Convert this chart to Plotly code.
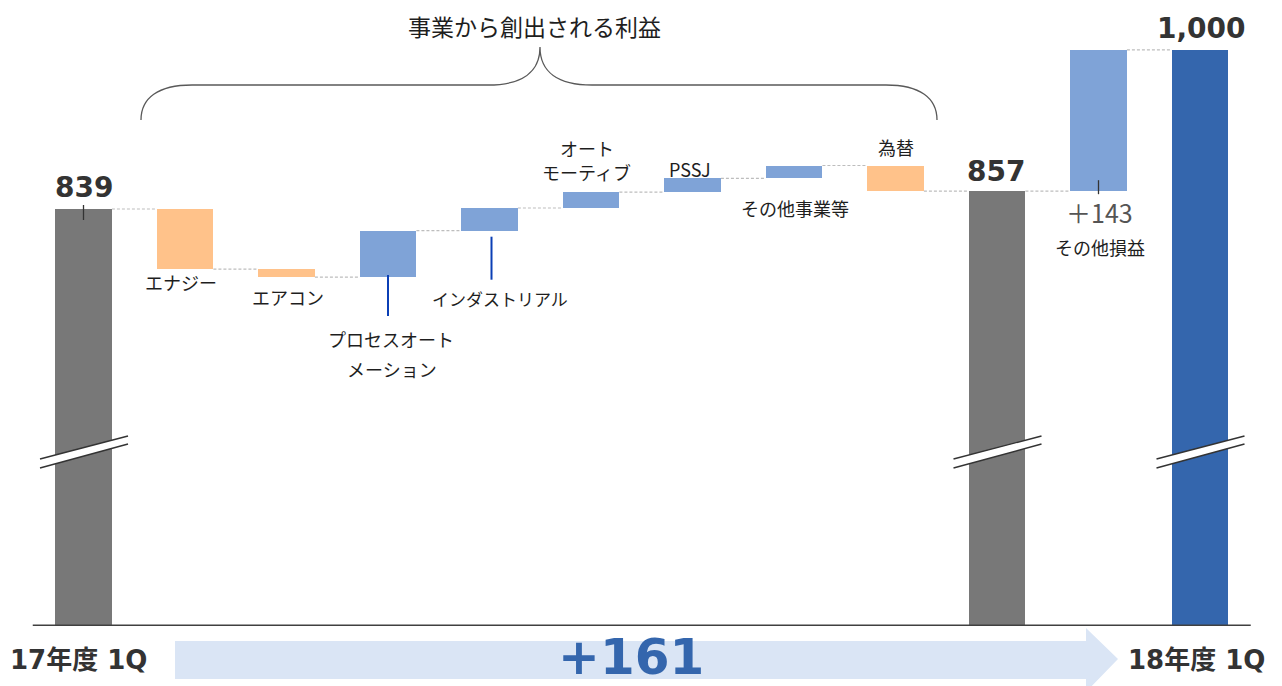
import plotly.graph_objects as go

# ---- data -------------------------------------------------------------
start_label = "17年度 1Q"
end_label = "18年度 1Q"
start_value = 839
segments = ["エナジー", "エアコン", "プロセスオートメーション", "インダストリアル",
            "オートモーティブ", "PSSJ", "その他事業等", "為替"]
segment_deltas = [-61, -8, 47, 23, 16, 14, 13, -26]
other_label = "その他損益"
other_delta = 143
bracket_title = "事業から創出される利益"

# ---- derived running totals ------------------------------------------
mid_total = start_value + sum(segment_deltas)
final_total = mid_total + other_delta
total_change = final_total - start_value

# ---- canvas geometry ---------------------------------------------------
W, H = 1282, 686
PX_PER_UNIT = 0.9876        # vertical scale (px per 1 unit)
X0_PX, X_STEP_PX = 83.5, 101.5
Y_TOP = 1050.6              # value at the top edge of the canvas
AXIS_FLOOR = Y_TOP - 625.3 / PX_PER_UNIT   # broken axis baseline
Y_BOTTOM = Y_TOP - H / PX_PER_UNIT
X_MIN = -X0_PX / X_STEP_PX
X_MAX = (W - X0_PX) / X_STEP_PX
BAR_W = 0.56

GRAY = "#787878"
ORANGE = "#FFC28A"
LIGHT_BLUE = "#7FA3D7"
DARK_BLUE = "#3466AD"
ARROW_FILL = "#DAE5F5"
TEXT = "#1e1e1e"
NUM = "#333333"
JP = "Noto Sans CJK JP"
BOLD_NUM = "DejaVu Sans, Noto Sans CJK JP"


def px(dpx):
    """pixel distance -> value units"""
    return dpx / PX_PER_UNIT


def paper_x(p):
    return p / W


def paper_y(p):
    return 1 - p / H


# ---- build bars --------------------------------------------------------
xs, bases, heights, colors = [], [], [], []
xs.append(0); bases.append(AXIS_FLOOR); heights.append(start_value - AXIS_FLOOR); colors.append(GRAY)
level = start_value
seg_bounds = []
for i, d in enumerate(segment_deltas, start=1):
    lo, hi = min(level, level + d), max(level, level + d)
    xs.append(i); bases.append(lo); heights.append(hi - lo)
    colors.append(ORANGE if d < 0 else LIGHT_BLUE)
    seg_bounds.append((lo, hi))
    level += d
i_mid = len(segment_deltas) + 1
xs.append(i_mid); bases.append(AXIS_FLOOR); heights.append(mid_total - AXIS_FLOOR); colors.append(GRAY)
i_other = i_mid + 1
xs.append(i_other); bases.append(mid_total); heights.append(other_delta); colors.append(LIGHT_BLUE)
i_final = i_other + 1
xs.append(i_final); bases.append(AXIS_FLOOR); heights.append(final_total - AXIS_FLOOR); colors.append(DARK_BLUE)

fig = go.Figure()
fig.add_trace(go.Bar(x=xs, y=heights, base=bases, width=BAR_W,
                     marker=dict(color=colors, line=dict(width=0)),
                     hoverinfo="skip", showlegend=False))

# ---- dashed connectors ---------------------------------------------------
levels = [start_value]
lv = start_value
for d in segment_deltas:
    lv += d
    levels.append(lv)
levels += [mid_total, final_total]
cx, cy = [], []
for i, lv in enumerate(levels):
    cx += [i + BAR_W / 2, i + 1 - BAR_W / 2, None]
    cy += [lv, lv, None]
fig.add_trace(go.Scatter(x=cx, y=cy, mode="lines",
                         line=dict(color="#bdbdbd", width=1.2, dash="3px,2px"),
                         hoverinfo="skip", showlegend=False))

shapes = []
annotations = []

# baseline
shapes.append(dict(type="line", xref="x", yref="y", x0=-0.5, x1=11.5,
                   y0=AXIS_FLOOR, y1=AXIS_FLOOR, line=dict(color="#404040", width=1.5)))

# axis-break marks on the full-height bars
for bi in (0, i_mid, i_final):
    xl = bi - 43.5 / X_STEP_PX
    xr = bi + 44.5 / X_STEP_PX
    upper = ((xl, paper_y(459)), (xr, paper_y(436)))
    lower = ((xl, paper_y(468)), (xr, paper_y(444)))
    shapes.append(dict(type="path", xref="x", yref="paper",
                       path=f"M {upper[0][0]},{upper[0][1]} L {upper[1][0]},{upper[1][1]} "
                            f"L {lower[1][0]},{lower[1][1]} L {lower[0][0]},{lower[0][1]} Z",
                       fillcolor="white", line=dict(width=0)))
    for seg in (upper, lower):
        shapes.append(dict(type="line", xref="x", yref="paper",
                           x0=seg[0][0], y0=seg[0][1], x1=seg[1][0], y1=seg[1][1],
                           line=dict(color="#333333", width=1.4)))

# leader lines
def vline(x, y0, y1, color, width):
    shapes.append(dict(type="line", xref="x", yref="y", x0=x, x1=x, y0=y0, y1=y1,
                       line=dict(color=color, width=width)))

vline(0, start_value + px(4), start_value - px(11), "#333333", 1.3)
vline(i_other, mid_total + px(11), mid_total - px(3), "#333333", 1.3)
pa_lo = seg_bounds[2][0]
vline(3, pa_lo + px(2), pa_lo - px(39), "#0B3FB5", 2)
ind_lo = seg_bounds[3][0]
vline(4 + 2 / X_STEP_PX, ind_lo - px(6), ind_lo - px(49), "#0B3FB5", 2)


def label(text, x, y, dx=0, dy=0, size=18, color=TEXT, family=JP, bold=False):
    t = f"<b>{text}</b>" if bold else text
    annotations.append(dict(text=t, x=x, y=y, xref="x", yref="y",
                            xshift=dx, yshift=dy, showarrow=False,
                            xanchor="center", yanchor="middle",
                            font=dict(family=family, size=size, color=color)))


# segment labels
e_lo = seg_bounds[0][0]
label(segments[0], 1, e_lo, dx=-4, dy=-13)
label(segments[1], 2, seg_bounds[1][0], dx=1, dy=-20)
label(segments[2][:7], 3, pa_lo, dx=3, dy=-62)
label(segments[2][7:], 3, pa_lo, dx=4, dy=-92)
label(segments[3], 4, ind_lo, dx=10, dy=-68, size=17)
label(segments[4][:3], 5, seg_bounds[4][1], dx=-4, dy=44)
label(segments[4][3:], 5, seg_bounds[4][1], dx=-5, dy=20)
label(segments[5], 6, seg_bounds[5][1], dx=-3, dy=9)
label(segments[6], 7, seg_bounds[6][0], dx=1, dy=-30)
label(segments[7], 8, seg_bounds[7][1], dx=0, dy=19)
label(f"＋{other_delta}", i_other, mid_total, dx=1, dy=-21, size=25, color="#555555")
label(other_label, i_other, mid_total, dx=1, dy=-56)

# totals
label(f"{start_value:,}", 0, start_value, dx=0, dy=21, size=28, color=NUM, family=BOLD_NUM, bold=True)
label(f"{mid_total:,}", i_mid, mid_total, dx=-1, dy=20, size=28, color=NUM, family=BOLD_NUM, bold=True)
label(f"{final_total:,}", i_final, final_total, dx=1, dy=21, size=28, color=NUM, family=BOLD_NUM, bold=True)

# bracket over business segments
pts = lambda x, y: f"{paper_x(x):.5f},{paper_y(y):.5f}"
brace = (f"M {pts(141,120)} C {pts(141,98)} {pts(158,85)} {pts(192,85)} "
         f"L {pts(488,85)} C {pts(522,85)} {pts(540,72)} {pts(540,47)} "
         f"C {pts(540,72)} {pts(558,85)} {pts(592,85)} "
         f"L {pts(886,85)} C {pts(920,85)} {pts(937,98)} {pts(937,120)}")
shapes.append(dict(type="path", xref="paper", yref="paper", path=brace,
                   line=dict(color="#595959", width=1.3)))
annotations.append(dict(text=bracket_title, x=paper_x(534), y=paper_y(26),
                        xref="paper", yref="paper", showarrow=False,
                        xanchor="center", yanchor="middle",
                        font=dict(family=JP, size=23, color=TEXT)))

# bottom arrow showing total change
arrow = (f"M {pts(175,641)} L {pts(1086,641)} L {pts(1086,628)} L {pts(1118,659)} "
         f"L {pts(1086,692)} L {pts(1086,679)} L {pts(175,679)} Z")
shapes.append(dict(type="path", xref="paper", yref="paper", path=arrow,
                   fillcolor=ARROW_FILL, line=dict(width=0), layer="below"))
annotations.append(dict(text=f"<b>+{total_change}</b>", x=paper_x(631), y=paper_y(657),
                        xref="paper", yref="paper", showarrow=False,
                        xanchor="center", yanchor="middle",
                        font=dict(family=BOLD_NUM, size=50, color=DARK_BLUE)))

# period labels
for text, cxp in ((start_label, 78), (end_label, 1196)):
    annotations.append(dict(text=f"<b>{text}</b>", x=paper_x(cxp), y=paper_y(660),
                            xref="paper", yref="paper", showarrow=False,
                            xanchor="center", yanchor="middle",
                            font=dict(family=BOLD_NUM, size=26, color=NUM)))

fig.update_layout(
    width=W, height=H,
    margin=dict(l=0, r=0, t=0, b=0),
    paper_bgcolor="white", plot_bgcolor="white",
    xaxis=dict(range=[X_MIN, X_MAX], visible=False, fixedrange=True),
    yaxis=dict(range=[Y_BOTTOM, Y_TOP], visible=False, fixedrange=True),
    shapes=shapes, annotations=annotations,
    bargap=0, showlegend=False,
)

fig.write_html("out.html", config={"displayModeBar": False})
